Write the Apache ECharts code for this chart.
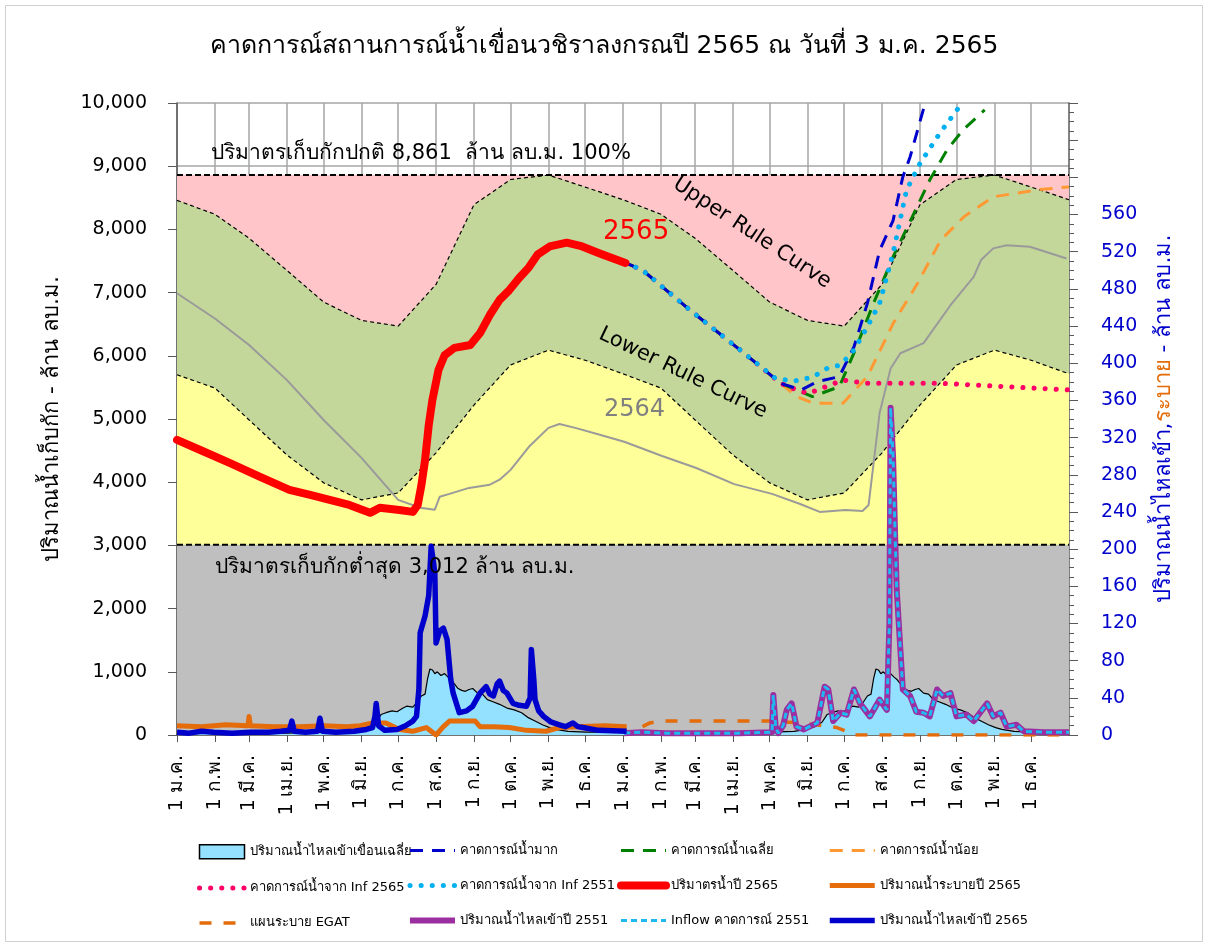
<!DOCTYPE html>
<html>
<head>
<meta charset="utf-8">
<title>คาดการณ์สถานการณ์น้ำเขื่อนวชิราลงกรณ</title>
<script src="https://cdn.jsdelivr.net/npm/echarts@6/dist/echarts.min.js"></script>
<style>
  html, body { margin: 0; padding: 0; background: #fff; }
  #chart { width: 1208px; height: 947px; }
</style>
</head>
<body>
<div id="chart"></div>
<script>
// แกน x : นับเป็นวัน 0..730 (2 ปี)
const monthLabels = ['1 ม.ค.', '1 ก.พ.', '1 มี.ค.', '1 เม.ย.', '1 พ.ค.', '1 มิ.ย.', '1 ก.ค.', '1 ส.ค.', '1 ก.ย.', '1 ต.ค.', '1 พ.ย.', '1 ธ.ค.']
const monthStartDays = [0, 31, 59, 90, 120, 151, 181, 212, 243, 273, 304, 334,
  365, 396, 424, 455, 485, 516, 546, 577, 608, 638, 669, 699]
const totalDays = 730

// เส้นระดับเก็บกัก (ล้าน ลบ.ม.)
const normalStorage = 8861
const minStorage = 3012
// rule curve รายเดือน 1 ม.ค. .. 1 ม.ค. ปีถัดไป
const ruleDays = [0, 31, 59, 90, 120, 151, 181, 212, 243, 273, 304, 334, 365]
const upperRule = [8460, 8240, 7860, 7350, 6850, 6560, 6470, 7130, 8390, 8790, 8860, 8670, 8470]
const lowerRule = [5700, 5490, 4985, 4430, 3990, 3720, 3830, 4465, 5220, 5855, 6090, 5930, 5715]

// ปริมาตรน้ำ [วัน, ล้าน ลบ.ม.]
const storage2565 = [[0, 4670], [19, 4510], [43, 4305], [68, 4085], [92, 3880], [109, 3800], [125, 3720],
  [141, 3640], [158, 3515], [166, 3595], [182, 3560], [193, 3530], [197, 3640], [200, 3950], [203, 4350],
  [206, 4900], [209, 5300], [214, 5775], [219, 6010], [227, 6125], [240, 6170], [248, 6360], [256, 6645],
  [264, 6885], [272, 7040], [280, 7230], [288, 7400], [295, 7600], [305, 7730], [319, 7790], [330, 7740],
  [346, 7620], [367, 7470]]
const storage2564 = [[0, 6990], [31, 6590], [59, 6170], [90, 5615], [120, 4985], [151, 4385], [181, 3720],
  [199, 3595], [211, 3565], [215, 3770], [223, 3815], [239, 3910], [256, 3960], [264, 4040], [273, 4195],
  [288, 4560], [304, 4860], [313, 4920], [326, 4860], [346, 4750], [366, 4640], [397, 4415], [425, 4225],
  [456, 3970], [487, 3815], [510, 3655], [526, 3530], [547, 3560], [561, 3545], [566, 3640], [575, 5095],
  [584, 5800], [592, 6040], [611, 6200], [633, 6800], [652, 7250], [658, 7515], [668, 7700], [679, 7750],
  [698, 7725], [728, 7540]]
const forecastHigh = [[367, 7470], [381, 7355], [420, 6720], [461, 6090], [494, 5565], [511, 5460], [524, 5590],
  [542, 5670], [554, 6140], [565, 6830], [575, 7665], [586, 8140], [594, 8830], [600, 9150], [611, 9910], [614, 10100]]
const forecastAvg = [[367, 7470], [381, 7355], [420, 6720], [461, 6090], [494, 5565], [507, 5460], [520, 5355],
  [542, 5510], [555, 6090], [570, 6830], [586, 7565], [603, 8250], [616, 8780], [630, 9250], [643, 9570], [661, 9890]]
const forecastLow = [[367, 7470], [381, 7355], [420, 6720], [461, 6090], [494, 5565], [507, 5355], [521, 5250],
  [545, 5250], [565, 5670], [586, 6510], [606, 7145], [625, 7830], [644, 8200], [668, 8515], [706, 8630], [730, 8672]]
const forecastInf2565 = [[367, 7470], [381, 7355], [420, 6720], [461, 6090], [494, 5565], [507, 5460], [517, 5405],
  [531, 5510], [545, 5615], [565, 5565], [625, 5565], [730, 5460]]
const forecastInf2551 = [[367, 7470], [381, 7355], [420, 6720], [461, 6090], [490, 5640], [505, 5600], [520, 5660],
  [532, 5800], [543, 5855], [554, 6090], [565, 6460], [575, 6830], [586, 7620], [597, 8620], [608, 9040],
  [624, 9515], [641, 9960], [643, 10050]]

// ปริมาณน้ำไหลเข้า / ระบาย [วัน, ล้าน ลบ.ม.] (แกนขวา)
const avgInflow = [[0, 3], [30, 2], [60, 2], [90, 2], [120, 3], [140, 4], [150, 6], [157, 9], [163, 14], [167, 22],
  [171, 24], [176, 26], [180, 25], [185, 29], [188, 31], [193, 30], [197, 36], [200, 42], [203, 44], [205, 60],
  [207, 71], [209, 70], [211, 66], [213, 68], [216, 64], [219, 66], [222, 62], [224, 60], [227, 55], [230, 50],
  [233, 48], [236, 47], [239, 49], [242, 50], [246, 45], [250, 44], [254, 38], [258, 36], [264, 33], [270, 29],
  [276, 27], [282, 24], [287, 19], [293, 15], [299, 11], [305, 8], [310, 6], [320, 4], [335, 3], [365, 3]]
const inflow2565 = [[0, 3], [10, 2], [20, 4], [30, 3], [45, 2], [60, 3], [75, 3], [85, 4], [92, 5], [94, 15], [96, 4],
  [105, 3], [115, 4], [117, 18], [119, 4], [130, 3], [145, 4], [155, 6], [160, 8], [162, 20], [163, 34], [165, 10],
  [170, 5], [180, 6], [187, 10], [193, 15], [196, 20], [198, 50], [199, 110], [203, 128], [206, 150], [208, 203],
  [210, 185], [211, 174], [212, 99], [215, 112], [218, 115], [221, 103], [224, 60], [226, 45], [231, 24], [237, 26],
  [242, 31], [248, 45], [253, 52], [256, 44], [259, 42], [262, 55], [264, 58], [267, 48], [270, 45], [275, 34],
  [280, 32], [286, 31], [289, 40], [290, 92], [292, 60], [293, 38], [296, 26], [300, 20], [306, 14], [313, 11],
  [318, 9], [324, 13], [328, 9], [332, 8], [345, 5], [368, 4]]
const release2565 = [[0, 10], [20, 9], [40, 11], [58, 10], [59, 20], [60, 10], [80, 9], [100, 9], [120, 10], [139, 9],
  [150, 10], [160, 13], [171, 13], [182, 6], [193, 4], [204, 8], [208, 4], [212, 0], [218, 9], [223, 15], [237, 15],
  [244, 15], [248, 9], [259, 9], [272, 8], [286, 5], [302, 4], [313, 8], [327, 9], [350, 10], [368, 9]]
const egatPlan = [[381, 9], [387, 13], [396, 15], [485, 15], [510, 13], [540, 8], [548, 4], [553, 0], [730, 0]]
const inflow2551 = [[366, 2], [380, 3], [400, 2], [430, 2], [460, 2], [487, 3], [488, 43], [490, 8], [492, 2], [496, 10],
  [499, 27], [503, 34], [507, 9], [513, 6], [524, 13], [530, 52], [533, 49], [537, 15], [543, 24], [548, 22],
  [554, 49], [559, 34], [567, 20], [575, 38], [581, 27], [583, 120], [584, 352], [586, 300], [588, 200], [589, 156],
  [594, 49], [600, 42], [605, 25], [611, 24], [616, 20], [622, 49], [627, 42], [633, 45], [638, 20], [646, 22],
  [652, 15], [663, 34], [668, 20], [674, 24], [679, 9], [687, 11], [693, 4], [710, 3], [730, 3]]

const FONT = "Tahoma, 'DejaVu Sans', 'Noto Sans', sans-serif"

const dayLabels = {}
monthStartDays.forEach((d, i) => { dayLabels[d] = monthLabels[i % 12] })
const days = []
for (let d = 0; d <= totalDays; d++) days.push(String(d))
const isMonthStart = (idx) => dayLabels[idx] !== undefined

// ปีที่ 1 และปีที่ 2 ใช้ rule curve / ค่าเฉลี่ยชุดเดียวกัน
const twoYears = (xs, ys) => {
  const out = xs.map((d, i) => [d, ys[i]])
  return out.concat(xs.slice(1).map((d, i) => [d + 365, ys[i + 1]]))
}
const avgTwoYears = avgInflow.concat(avgInflow.slice(1).map((p) => [p[0] + 365, p[1]]))

const chart = echarts.init(document.getElementById('chart'))

const lineBase = { type: 'line', symbol: 'none', silent: true, animation: false }
const zone = (name, data, fill, width, dash) => Object.assign({}, lineBase, {
  name: name,
  data: data,
  lineStyle: { color: '#000', width: width, type: dash },
  areaStyle: { color: fill, opacity: 1 }
})

const legendStyle = { fontSize: 13, fontFamily: FONT, color: '#000' }
const legendCols = [
  [{ name: 'ปริมาณน้ำไหลเข้าเขื่อนเฉลี่ย', icon: 'rect', itemStyle: { color: '#93e0ff', borderColor: '#000', borderWidth: 1.5, opacity: 1 } },
    'คาดการณ์น้ำจาก Inf 2565', 'แผนระบาย EGAT'],
  ['คาดการณ์น้ำมาก', 'คาดการณ์น้ำจาก Inf 2551', 'ปริมาณน้ำไหลเข้าปี 2551'],
  ['คาดการณ์น้ำเฉลี่ย', 'ปริมาตรน้ำปี 2565', 'Inflow คาดการณ์ 2551'],
  ['คาดการณ์น้ำน้อย', 'ปริมาณน้ำระบายปี 2565', 'ปริมาณน้ำไหลเข้าปี 2565']
]
const legendLeft = [192, 402, 612, 822]

const options = {
  animation: false,
  textStyle: { fontFamily: FONT },
  title: {
    text: 'คาดการณ์สถานการณ์น้ำเขื่อนวชิราลงกรณปี 2565 ณ วันที่ 3 ม.ค. 2565',
    left: 'center',
    top: 29,
    textStyle: { fontSize: 25, fontWeight: 'normal', color: '#000', fontFamily: FONT }
  },
  legend: legendCols.map((col, i) => ({
    data: col,
    orient: 'vertical',
    left: legendLeft[i],
    top: 839,
    itemWidth: 45,
    itemHeight: 14,
    itemGap: 22,
    selectedMode: false,
    itemStyle: { opacity: 0 },
    lineStyle: { width: 'inherit', type: 'inherit', cap: 'inherit' },
    textStyle: legendStyle
  })),
  grid: { left: 177, right: 139, top: 103, bottom: 212 },
  xAxis: {
    type: 'category',
    data: days,
    boundaryGap: false,
    axisLine: { lineStyle: { color: '#595959', width: 1.5 } },
    axisTick: { interval: isMonthStart, length: 7, lineStyle: { color: '#595959' } },
    splitLine: { show: true, interval: isMonthStart, lineStyle: { color: '#a6a6a6', width: 1.5 } },
    axisLabel: {
      interval: isMonthStart,
      rotate: 90,
      margin: 20,
      fontSize: 19,
      color: '#000',
      fontFamily: FONT,
      formatter: (v) => dayLabels[+v] || ''
    }
  },
  yAxis: [
    {
      type: 'value',
      min: 0,
      max: 10000,
      interval: 1000,
      name: 'ปริมาณน้ำเก็บกัก - ล้าน ลบ.ม.',
      nameLocation: 'middle',
      nameRotate: 90,
      nameGap: 114,
      nameTextStyle: { fontSize: 22, color: '#000', fontFamily: FONT },
      axisLine: { show: true, lineStyle: { color: '#595959', width: 1.5 } },
      axisTick: { show: true, length: 9, lineStyle: { color: '#595959' } },
      splitLine: { lineStyle: { color: '#a6a6a6', width: 1.5 } },
      axisLabel: {
        fontSize: 19,
        color: '#000',
        margin: 30,
        fontFamily: FONT,
        formatter: (v) => v.toLocaleString('en-US')
      }
    },
    {
      type: 'value',
      position: 'right',
      min: 0,
      max: 680,
      interval: 40,
      name: '{b|ปริมาณน้ำไหลเข้า,}{o|ระบาย}{b| - ล้าน ลบ.ม.}',
      nameLocation: 'middle',
      nameRotate: 90,
      nameGap: 84,
      nameTextStyle: {
        rich: {
          b: { fontSize: 22, color: '#0000cc', fontFamily: FONT },
          o: { fontSize: 22, color: '#e46c0a', fontFamily: FONT }
        }
      },
      axisLine: { show: true, lineStyle: { color: '#595959', width: 1.5 } },
      axisTick: { show: true, length: 9, lineStyle: { color: '#595959' } },
      minorTick: { show: true, splitNumber: 4, length: 5, lineStyle: { color: '#595959' } },
      splitLine: { show: false },
      axisLabel: {
        fontSize: 19,
        color: '#0000cc',
        margin: 32,
        fontFamily: FONT,
        formatter: (v) => (v > 560 ? '' : String(v))
      }
    }
  ],
  series: [
    zone('zonePink', [[0, normalStorage], [totalDays, normalStorage]], '#ffc5c8', 2, [6, 3]),
    zone('zoneGreen', twoYears(ruleDays, upperRule), '#c4d79b', 1.2, [4, 3]),
    zone('zoneYellow', twoYears(ruleDays, lowerRule), '#ffff99', 1.2, [4, 3]),
    zone('zoneGray', [[0, minStorage], [totalDays, minStorage]], '#bfbfbf', 2, [6, 3]),
    Object.assign({}, lineBase, {
      name: 'ปริมาณน้ำไหลเข้าเขื่อนเฉลี่ย',
      yAxisIndex: 1,
      data: avgTwoYears,
      itemStyle: { color: '#93e0ff' },
      lineStyle: { color: '#000', width: 1.2 },
      areaStyle: { color: '#93e0ff', opacity: 1 }
    }),
    Object.assign({}, lineBase, {
      name: 'ปริมาณน้ำระบายปี 2565',
      yAxisIndex: 1,
      data: release2565,
      lineStyle: { color: '#e46c0a', width: 5, join: 'round' }
    }),
    Object.assign({}, lineBase, {
      name: 'แผนระบาย EGAT',
      yAxisIndex: 1,
      data: egatPlan,
      lineStyle: { color: '#e46c0a', width: 3.5, type: [12, 12] }
    }),
    Object.assign({}, lineBase, {
      name: 'ปริมาณน้ำไหลเข้าปี 2551',
      yAxisIndex: 1,
      data: inflow2551,
      lineStyle: { color: '#9b2ea0', width: 6, join: 'round' }
    }),
    Object.assign({}, lineBase, {
      name: 'Inflow คาดการณ์ 2551',
      yAxisIndex: 1,
      data: inflow2551,
      lineStyle: { color: '#1fb8f0', width: 3, type: [6, 4] }
    }),
    Object.assign({}, lineBase, {
      name: 'ปริมาณน้ำไหลเข้าปี 2565',
      yAxisIndex: 1,
      data: inflow2565,
      lineStyle: { color: '#0000cc', width: 5.5, join: 'round' }
    }),
    Object.assign({}, lineBase, {
      name: 'storage2564',
      data: storage2564,
      lineStyle: { color: '#9a9a9a', width: 2 }
    }),
    Object.assign({}, lineBase, {
      name: 'คาดการณ์น้ำน้อย',
      data: forecastLow,
      lineStyle: { color: '#ff9933', width: 3, type: [13, 9] }
    }),
    Object.assign({}, lineBase, {
      name: 'คาดการณ์น้ำเฉลี่ย',
      data: forecastAvg,
      lineStyle: { color: '#008000', width: 3, type: [13, 9] }
    }),
    Object.assign({}, lineBase, {
      name: 'คาดการณ์น้ำจาก Inf 2565',
      data: forecastInf2565,
      lineStyle: { color: '#ff0066', width: 5, type: [0.1, 11], cap: 'round' }
    }),
    Object.assign({}, lineBase, {
      name: 'คาดการณ์น้ำมาก',
      data: forecastHigh,
      lineStyle: { color: '#0000cc', width: 3, type: [13, 9] }
    }),
    Object.assign({}, lineBase, {
      name: 'คาดการณ์น้ำจาก Inf 2551',
      data: forecastInf2551,
      lineStyle: { color: '#00b0f0', width: 5, type: [0.1, 11], cap: 'round' }
    }),
    Object.assign({}, lineBase, {
      name: 'ปริมาตรน้ำปี 2565',
      data: storage2565,
      lineStyle: { color: '#ff0000', width: 8, cap: 'round', join: 'round' }
    })
  ],
  graphic: [
    { type: 'rect', z: 0, shape: { x: 5.5, y: 5.5, width: 1197, height: 936 }, style: { fill: null, stroke: '#d0d0d0', lineWidth: 1 } },
    { type: 'text', z: 100, x: 211, y: 154, style: { text: 'ปริมาตรเก็บกักปกติ 8,861  ล้าน ลบ.ม. 100%', fontSize: 21, fontFamily: FONT, fill: '#000', align: 'left', verticalAlign: 'middle' } },
    { type: 'text', z: 100, x: 215, y: 568, style: { text: 'ปริมาตรเก็บกักต่ำสุด 3,012 ล้าน ลบ.ม.', fontSize: 21, fontFamily: FONT, fill: '#000', align: 'left', verticalAlign: 'middle' } },
    { type: 'text', z: 100, x: 752, y: 233, rotation: -33.4 * Math.PI / 180, style: { text: 'Upper Rule Curve', fontSize: 21, fontFamily: FONT, fill: '#000', align: 'center', verticalAlign: 'middle' } },
    { type: 'text', z: 100, x: 683, y: 373, rotation: -25.8 * Math.PI / 180, style: { text: 'Lower Rule Curve', fontSize: 21, fontFamily: FONT, fill: '#000', align: 'center', verticalAlign: 'middle' } },
    { type: 'text', z: 100, x: 603, y: 232, style: { text: '2565', fontSize: 26, fontFamily: FONT, fill: '#ff0000', align: 'left', verticalAlign: 'middle' } },
    { type: 'text', z: 100, x: 604, y: 410, style: { text: '2564', fontSize: 24, fontFamily: FONT, fill: '#808080', align: 'left', verticalAlign: 'middle' } }
  ]
}

chart.setOption(options)
</script>
</body>
</html>
